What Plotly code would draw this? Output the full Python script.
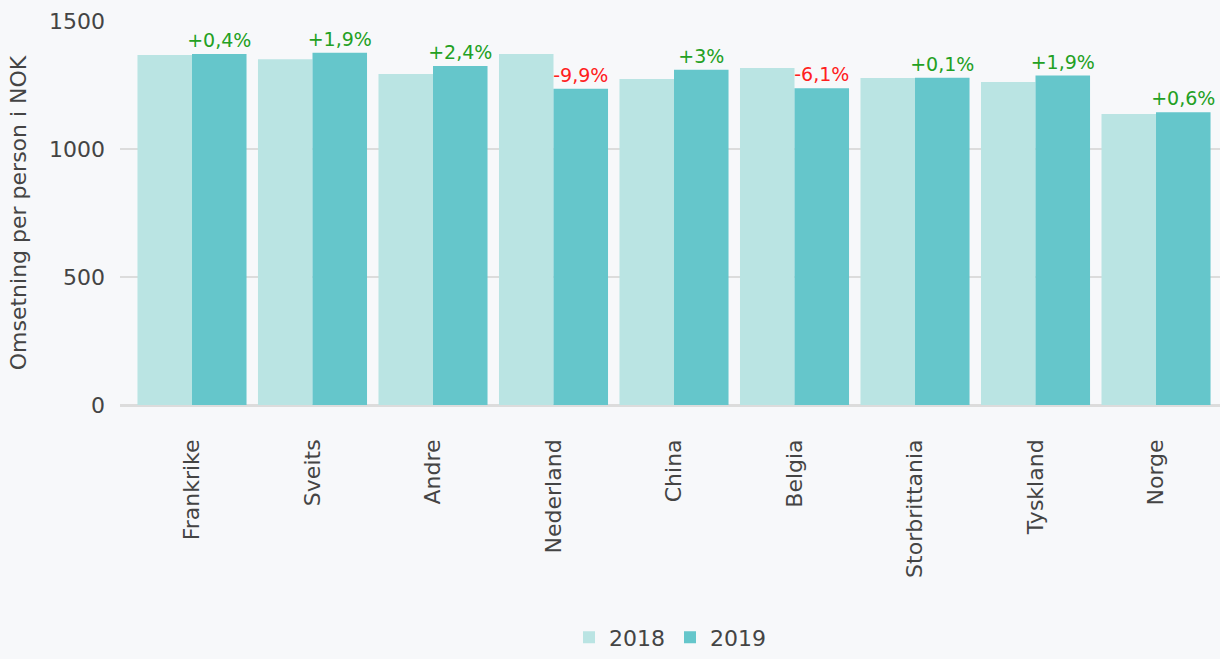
import plotly.graph_objects as go

categories = ["Frankrike", "Sveits", "Andre", "Nederland", "China", "Belgia",
              "Storbrittania", "Tyskland", "Norge"]
values_2018 = [1367, 1351, 1293, 1371, 1273, 1316, 1277, 1262, 1137]
values_2019 = [1371, 1376, 1324, 1235, 1310, 1237, 1278, 1287, 1144]
change_labels = ["+0,4%", "+1,9%", "+2,4%", "-9,9%", "+3%", "-6,1%", "+0,1%", "+1,9%", "+0,6%"]
change_colors = ["#23a023" if s.startswith("+") else "#ff2020" for s in change_labels]

FONT = "DejaVu Sans"
xs = list(range(len(categories)))

fig = go.Figure()
fig.add_trace(go.Bar(x=xs, y=values_2018, name="2018", marker_color="#bae4e3",
                     marker_line_width=0, hoverinfo="skip"))
fig.add_trace(go.Bar(x=xs, y=values_2019, name="2019", marker_color="#65c6cb",
                     marker_line_width=0, text=change_labels, textposition="outside",
                     textfont=dict(color=change_colors, size=19, family=FONT),
                     constraintext="none", cliponaxis=False, hoverinfo="skip"))

fig.update_layout(
    width=1220, height=659,
    paper_bgcolor="#f7f8fa", plot_bgcolor="#f7f8fa",
    margin=dict(l=120, r=0, t=21, b=254),
    barmode="group", bargap=0.095, bargroupgap=0,
    font=dict(family=FONT, color="#444444", size=19),
    showlegend=True,
    legend=dict(orientation="h", x=0.5, xanchor="center", y=-0.66, yanchor="bottom",
                font=dict(size=22, color="#444444"), bgcolor="rgba(0,0,0,0)",
                itemsizing="constant"),
)
fig.update_xaxes(
    range=[-0.5975, 8.531], tickvals=xs, ticktext=categories, tickangle=-90,
    showgrid=False, zeroline=False, showline=False, ticks="", automargin=False,
    ticklabelstandoff=29, tickfont=dict(size=22, color="#444444"),
)
fig.update_yaxes(
    range=[0, 1500], tickvals=[0, 500, 1000, 1500], showgrid=True,
    gridcolor="#dcdcdc", gridwidth=2, zeroline=True, zerolinecolor="#dcdcdc",
    zerolinewidth=3, ticks="", ticklabelstandoff=14, automargin=False,
    tickfont=dict(size=22, color="#444444"),
    title=dict(text="Omsetning per person i NOK", font=dict(size=22, color="#444444"),
               standoff=16),
)

fig.write_html("out.html", config={"displayModeBar": False},
               post_script="document.body.style.margin='0';document.body.style.overflow='hidden';")
